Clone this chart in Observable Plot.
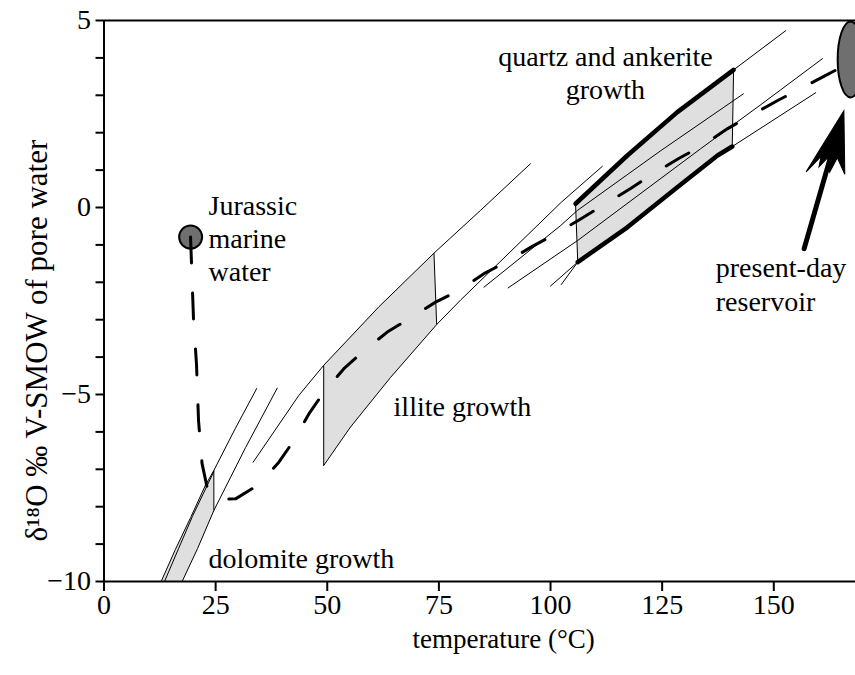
<!DOCTYPE html>
<html><head><meta charset="utf-8">
<script src="https://cdn.jsdelivr.net/npm/d3@7"></script>
<script src="https://cdn.jsdelivr.net/npm/@observablehq/plot@0.6"></script>
<style>html,body{margin:0;padding:0;background:#fff;}</style>
</head><body><div id="chart"></div>
<script>
// ---- axis ticks ----
const xTicks = [0, 25, 50, 75, 100, 125, 150];
const yTicks = [-10, -9, -8, -7, -6, -5, -4, -3, -2, -1, 0, 1, 2, 3, 4, 5];

// ---- curves: [temperature °C, δ18O water ‰] ----
const dolomiteUpper  = [[12.8,-10],[16.0,-9.14],[19.4,-8.29],[22.7,-7.43],[24.6,-7.03],[29.4,-5.91],[34.2,-4.84]];
const dolomiteUpper2 = [[13.55,-10],[16.7,-9.12],[19.8,-8.26],[23.0,-7.46],[24.6,-7.06]];
const dolomiteLower  = [[17.5,-10],[20.95,-9.12],[24.6,-8.10],[31.7,-6.42],[38.8,-4.83]];
const illiteUpper    = [[33.4,-6.81],[43.6,-5.03],[49.2,-4.22],[61.6,-2.65],[73.9,-1.22],[84.3,-0.08],[95.5,1.17]];
const illiteLower    = [[49.2,-6.90],[55.2,-5.87],[64.2,-4.54],[74.5,-3.13],[79.9,-2.47],[102.5,0.15],[111.6,1.10]];
const quartzUpper    = [[105.6,0.10],[117.2,1.39],[128.4,2.55],[141.0,3.68],[152.7,4.73]];
const quartzLower    = [[106.1,-1.46],[117.2,-0.53],[128.4,0.54],[137.4,1.39],[140.7,1.63],[159.4,3.07]];
const ankeriteA      = [[85.1,-2.13],[102.3,-0.48],[106.0,-0.08],[124.7,1.52],[143.2,3.04]];
const ankeriteB      = [[90.5,-2.15],[106.1,-0.88],[133.6,1.57],[147.1,2.75],[160.9,3.98]];
const shortA         = [[100.0,-2.10],[106.1,-1.46]];
const shortB         = [[102.4,-2.06],[106.1,-1.46]];

// band limits (temperature) [on upper curve, on lower curve]
const dolomiteLeft  = [0, 0],       dolomiteRight = [24.6, 24.6];
const illiteLeft    = [49.2, 49.2], illiteRight   = [73.9, 74.5];
const quartzLeft    = [105.6, 106.1], quartzRight = [141.0, 140.7];

// ---- fluid evolution path (dashed) ----
const fluidPath = [[19.38,-0.79],[19.60,-1.50],[20.05,-3.00],[20.72,-4.20],[21.17,-5.70],[21.95,-6.84],[23.25,-7.57],
  [24.75,-7.81],[29.46,-7.79],[34.68,-7.41],[39.16,-6.81],[42.52,-6.23],[45.88,-5.52],[49.24,-4.94],[53.72,-4.31],
  [57.84,-3.87],[63.44,-3.33],[68.28,-2.98],[74.26,-2.53],[79.48,-2.22],[85.08,-1.77],[90.32,-1.44],[95.92,-1.04],
  [101.37,-0.69],[107.12,-0.28],[112.34,0.10],[117.94,0.51],[123.10,0.91],[128.70,1.31],[134.07,1.66],[139.67,2.11],
  [144.82,2.46],[150.87,2.86],[156.02,3.18],[162.07,3.56],[167.22,3.88]];

// ---- fluid end-members ----
const marineWater  = [[19.4, -0.79]];
const presentDay   = [[167.2, 3.96]];
const arrowTail    = [156.8, -1.10];
const arrowTip     = [165.7, 2.59];

// ---- annotations ----
const labelsStart = [
  {text: "Jurassic\nmarine\nwater", T: 23.4, d: -0.79},
  {text: "illite growth", T: 64.85, d: -5.29},
  {text: "dolomite growth", T: 23.4, d: -9.36},
  {text: "present-day\nreservoir", T: 137.0, d: -2.03}
];
const labelsMiddle = [
  {text: "quartz and ankerite\ngrowth", T: 112.3, d: 3.62}
];
const xLabel = "temperature (°C)";
const yLabel = "δ¹⁸O ‰ V-SMOW of pore water";

// ---- layout ----
const W = 855, H = 675, mL = 103.5, mR = 0, mT = 20, mB = 94;
const xDom = [0, 168.3], yDom = [-10, 5];
const kx = (W - mL - mR) / (xDom[1] - xDom[0]);
const ky = (H - mT - mB) / (yDom[1] - yDom[0]);

const within = (curve, t0, t1) => curve.filter(p => p[0] >= t0 - 1e-9 && p[0] <= t1 + 1e-9);
const polygon = (upper, lower, left, right) => {
  const a = within(upper, left[0], right[0]), b = within(lower, left[1], right[1]).slice().reverse();
  return [...a, ...b, a[0]];
};
const bands = [
  {name: "dolomite", pts: polygon(dolomiteUpper, dolomiteLower, dolomiteLeft, dolomiteRight)},
  {name: "illite", pts: polygon(illiteUpper, illiteLower, illiteLeft, illiteRight)},
  {name: "quartz", pts: polygon(quartzUpper, quartzLower, quartzLeft, quartzRight)}
].flatMap(b => b.pts.map(p => ({band: b.name, T: p[0], d: p[1]})));

const thinCurves = [dolomiteUpper, dolomiteUpper2, dolomiteLower, illiteUpper, illiteLower,
  quartzUpper, quartzLower, ankeriteA, ankeriteB, shortA, shortB]
  .flatMap((c, i) => c.map(p => ({id: i, T: p[0], d: p[1]})));

const thickEdges = [within(quartzUpper, quartzLeft[0], quartzRight[0]), within(quartzLower, quartzLeft[1], quartzRight[1])]
  .flatMap((c, i) => c.map(p => ({id: i, T: p[0], d: p[1]})));

const at = (curve, t) => curve.find(p => Math.abs(p[0] - t) < 1e-9);
const sides = [
  [at(dolomiteUpper, dolomiteRight[0]), at(dolomiteLower, dolomiteRight[1])],
  [at(illiteUpper, illiteLeft[0]), at(illiteLower, illiteLeft[1])],
  [at(illiteUpper, illiteRight[0]), at(illiteLower, illiteRight[1])],
  [at(quartzUpper, quartzLeft[0]), at(quartzLower, quartzLeft[1])],
  [at(quartzUpper, quartzRight[0]), at(quartzLower, quartzRight[1])]
];

// custom symbols
const ellipseSym = {draw(ctx, size) {
  const r = Math.sqrt(size / Math.PI), ry = r, rx = r * 0.34, k = 0.5523;
  ctx.moveTo(rx, 0);
  ctx.bezierCurveTo(rx, ry * k, rx * k, ry, 0, ry);
  ctx.bezierCurveTo(-rx * k, ry, -rx, ry * k, -rx, 0);
  ctx.bezierCurveTo(-rx, -ry * k, -rx * k, -ry, 0, -ry);
  ctx.bezierCurveTo(rx * k, -ry, rx, -ry * k, rx, 0);
  ctx.closePath();
}};
const headSym = {draw(ctx, size) {
  const r = Math.sqrt(size / Math.PI);
  ctx.moveTo(0, 0);
  ctx.lineTo(0.44 * r, 1.45 * r);
  ctx.lineTo(0.16 * r, 1.12 * r);
  ctx.lineTo(0.08 * r, 1.5 * r);
  ctx.lineTo(-0.06 * r, 1.18 * r);
  ctx.lineTo(-0.2 * r, 1.45 * r);
  ctx.lineTo(-0.22 * r, 1.2 * r);
  ctx.lineTo(-0.46 * r, 1.65 * r);
  ctx.closePath();
}};
const arrowAngle = Math.atan2((arrowTip[0] - arrowTail[0]) * kx, (arrowTip[1] - arrowTail[1]) * ky) * 180 / Math.PI;

const fmt = d => d % 5 === 0 ? (d < 0 ? "\u2212" + Math.abs(d) : String(d)) : "";
const font = "'Liberation Serif', 'Times New Roman', serif";

const fig = Plot.plot({
  width: W, height: H,
  marginLeft: mL, marginRight: mR, marginTop: mT, marginBottom: mB,
  x: {domain: xDom},
  y: {domain: yDom},
  style: {fontFamily: font, fontSize: "28px", color: "black", background: "white"},
  marks: [
    Plot.line(bands, {x: "T", y: "d", z: "band", fill: "#dfdfdf", stroke: "none", clip: true}),
    Plot.line(thinCurves, {x: "T", y: "d", z: "id", stroke: "black", strokeWidth: 1, clip: true}),
    Plot.line(thickEdges, {x: "T", y: "d", z: "id", stroke: "black", strokeWidth: 4.5, clip: true}),
    Plot.link(sides, {x1: s => s[0][0], y1: s => s[0][1], x2: s => s[1][0], y2: s => s[1][1], stroke: "black", strokeWidth: 1}),
    Plot.ruleY([yDom[0], yDom[1]], {stroke: "black", strokeWidth: 2}),
    Plot.ruleX([0], {stroke: "black", strokeWidth: 2}),
    Plot.axisX({ticks: xTicks, tickSize: 10, tickPadding: 3, strokeWidth: 2, fontSize: 28, label: null}),
    Plot.axisY({ticks: yTicks, tickSize: 8, tickPadding: 5, strokeWidth: 2, fontSize: 28, tickFormat: fmt, label: null}),
    Plot.dot(marineWater, {x: d => d[0], y: d => d[1], r: 11.5, fill: "#6f6f6f", stroke: "black", strokeWidth: 2}),
    Plot.dot(presentDay, {x: d => d[0], y: d => d[1], r: 38, symbol: ellipseSym, fill: "#6f6f6f", stroke: "black", strokeWidth: 2}),
    Plot.line(fluidPath, {x: d => d[0], y: d => d[1], stroke: "black", strokeWidth: 3, strokeDasharray: "26,30"}),
    Plot.arrow([[arrowTail, arrowTip]], {x1: d => d[0][0], y1: d => d[0][1], x2: d => d[1][0], y2: d => d[1][1], stroke: "black", strokeWidth: 5, headLength: 0, insetEnd: 45}),
    Plot.dot([arrowTip], {x: d => d[0], y: d => d[1], r: 42, symbol: headSym, rotate: arrowAngle, fill: "black", stroke: "black", strokeWidth: 1}),
    Plot.text(labelsStart, {x: "T", y: "d", text: "text", textAnchor: "start", lineAnchor: "middle", lineHeight: 1.18, fontSize: 28, fill: "black"}),
    Plot.text(labelsMiddle, {x: "T", y: "d", text: "text", textAnchor: "middle", lineAnchor: "middle", lineHeight: 1.18, fontSize: 28, fill: "black"}),
    Plot.text([xLabel], {x: 89.5, y: -11.55, text: d => d, fontSize: 27, fill: "black"}),
    Plot.text([yLabel], {x: -14.9, y: -3.56, text: d => d, rotate: -90, fontSize: 31, fill: "black"})
  ]
});
document.getElementById("chart").appendChild(fig);
</script></body></html>
